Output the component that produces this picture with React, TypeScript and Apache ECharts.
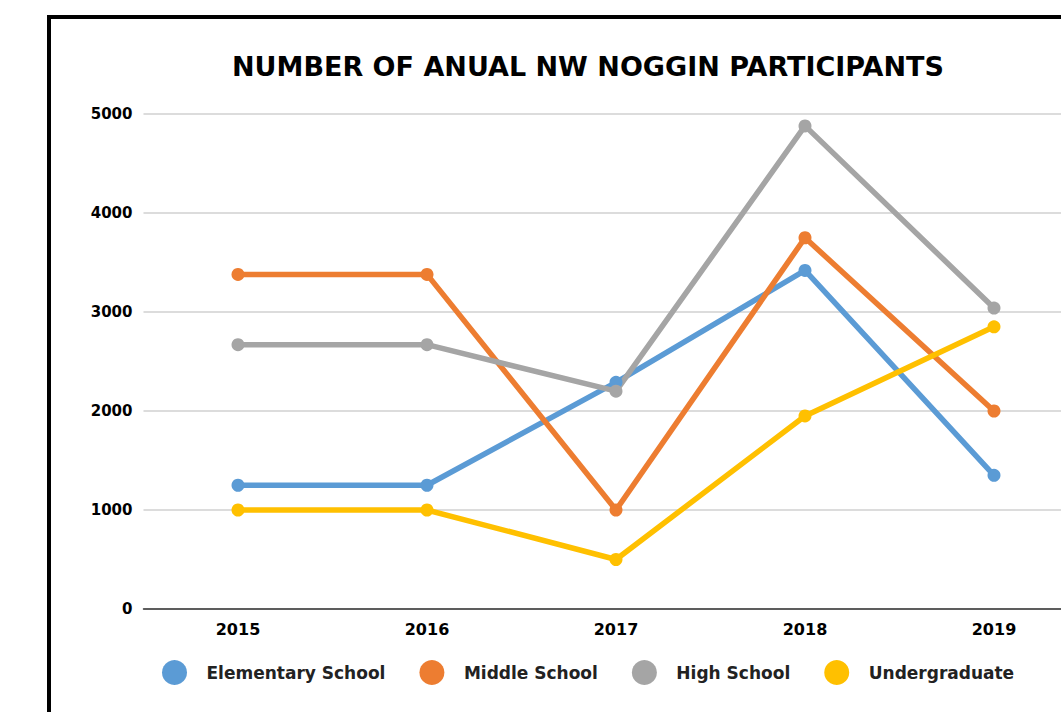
import React, { useEffect, useRef } from "react";
import * as echarts from "echarts";

const years = ["2015", "2016", "2017", "2018", "2019"];
const elementary = [1250, 1250, 2290, 3420, 1350];
const middle = [3380, 3380, 1000, 3750, 2000];
const high = [2670, 2670, 2200, 4880, 3040];
const undergrad = [1000, 1000, 500, 1950, 2850];
const seriesNames = ["Elementary School", "Middle School", "High School", "Undergraduate"];
const colors = ["#5B9BD5", "#ED7D31", "#A5A5A5", "#FFC000"];
const titleText = "NUMBER OF ANUAL NW NOGGIN PARTICIPANTS";

const FONT = "DejaVu Sans";

export default function App() {
  const ref = useRef<HTMLDivElement>(null);
  useEffect(() => {
    if (!ref.current) return;
    const chart = echarts.init(ref.current, null, { renderer: "svg" });
    const data = [elementary, middle, high, undergrad];
    chart.setOption({
      animation: false,
      backgroundColor: "#ffffff",
      color: colors,
      graphic: [
        {
          type: "rect",
          shape: { x: 49, y: 17, width: 1100, height: 800 },
          style: { fill: "none", stroke: "#000", lineWidth: 4 },
          z: 100,
        },
        {
          type: "text",
          x: 588,
          y: 66,
          style: {
            text: titleText,
            fontFamily: FONT,
            fontWeight: "bold",
            fontSize: 27,
            fill: "#000",
            textAlign: "center",
            textVerticalAlign: "middle",
          },
        },
      ],
      legend: {
        left: 157,
        top: 655,
        itemWidth: 26,
        itemHeight: 25,
        itemGap: 34,
        icon: "circle",
        textStyle: {
          fontFamily: FONT,
          fontWeight: "bold",
          fontSize: 17,
          color: "#222",
          padding: [0, 0, 0, 14],
        },
        data: seriesNames,
      },
      grid: { left: 143.5, top: 114, width: 945, height: 495, containLabel: false },
      xAxis: {
        type: "category",
        data: years,
        boundaryGap: true,
        axisTick: { show: false },
        axisLine: { lineStyle: { color: "#333", width: 1.5 } },
        axisLabel: {
          margin: 12,
          fontFamily: FONT,
          fontWeight: "bold",
          fontSize: 16,
          color: "#000",
        },
      },
      yAxis: {
        type: "value",
        min: 0,
        max: 5000,
        interval: 1000,
        axisLine: { show: false },
        axisTick: { show: false },
        splitLine: { lineStyle: { color: "#d0d0d0", width: 1.5 } },
        axisLabel: {
          margin: 11,
          fontFamily: FONT,
          fontWeight: "bold",
          fontSize: 15,
          color: "#000",
          formatter: (v: number) => String(v),
        },
      },
      series: seriesNames.map((name, i) => ({
        name,
        type: "line",
        data: data[i],
        symbol: "circle",
        symbolSize: 13,
        lineStyle: { width: 5.5, color: colors[i] },
        itemStyle: { color: colors[i] },
      })),
    });
    return () => chart.dispose();
  }, []);
  return (
    <div
      style={{
        position: "absolute",
        left: 0,
        top: 0,
        width: 1061,
        height: 712,
        overflow: "hidden",
      }}
    >
      <div ref={ref} style={{ width: 1120, height: 712 }} />
    </div>
  );
}
